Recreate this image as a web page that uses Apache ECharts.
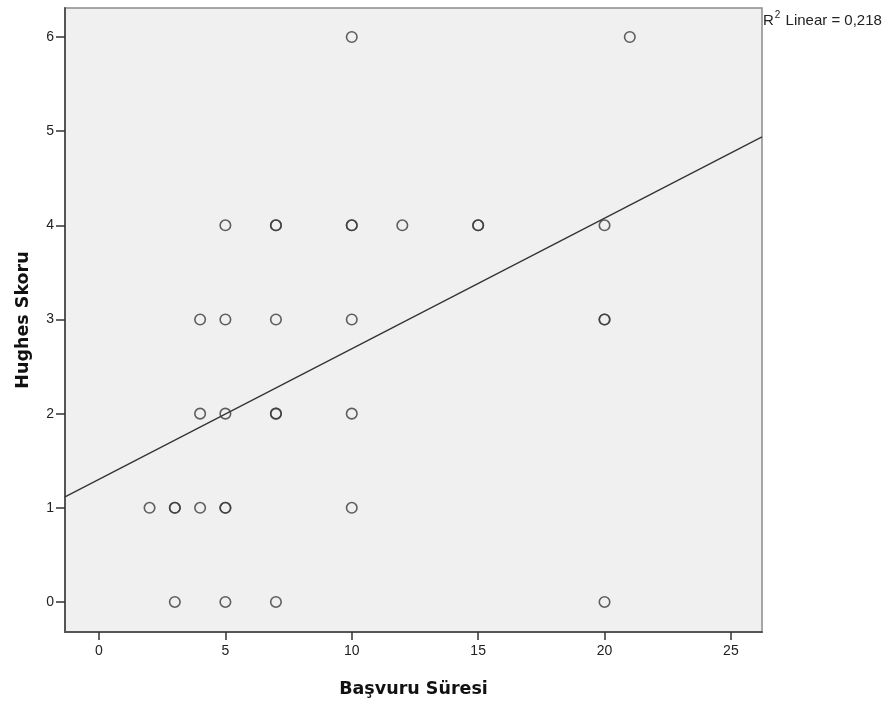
<!DOCTYPE html>
<html>
<head>
<meta charset="utf-8">
<script src="https://cdn.jsdelivr.net/npm/echarts@6/dist/echarts.min.js"></script>
<style>html,body{margin:0;padding:0;background:#fff}#c{width:892px;height:704px}</style>
</head>
<body>
<div id="c"></div>
<script>
// Başvuru Süresi (x) values
const basvuruSuresi = [10, 21, 5, 7, 7, 10, 10, 12, 15, 15, 20, 4, 5, 7, 10, 20, 20, 4, 5, 7, 7, 10, 2, 3, 3, 4, 5, 5, 10, 3, 5, 7, 20];
// Hughes Skoru (y) values
const hughesSkoru = [6, 6, 4, 4, 4, 4, 4, 4, 4, 4, 4, 3, 3, 3, 3, 3, 3, 2, 2, 2, 2, 2, 1, 1, 1, 1, 1, 1, 1, 0, 0, 0, 0];
const xTicks = [0, 5, 10, 15, 20, 25];
const yTicks = [0, 1, 2, 3, 4, 5, 6];
const xRange = [-1.345, 26.23];
const yRange = [-0.319, 6.308];
// Linear fit
const fitIntercept = 1.302;
const fitSlope = 0.1387;
const r2Text = '0,218';

const points = basvuruSuresi.map((x, i) => [x, hughesSkoru[i]]);
const fitLine = xRange.map(x => [x, fitIntercept + fitSlope * x]);

const font = '"Liberation Sans", Arial, sans-serif';
const boldFont = '"DejaVu Sans", Verdana, sans-serif';
const chart = echarts.init(document.getElementById('c'));
chart.setOption({
  animation: false,
  backgroundColor: '#ffffff',
  title: {
    left: 763, top: 10, padding: 0,
    text: '{a|R}{s|2}{a| Linear = ' + r2Text + '}',
    textStyle: {
      rich: {
        a: { fontFamily: font, fontSize: 15, fontWeight: 'normal', color: '#222', verticalAlign: 'bottom', lineHeight: 18 },
        s: { fontFamily: font, fontSize: 10, fontWeight: 'normal', color: '#222', verticalAlign: 'top', padding: [0, 1, 7, 1], lineHeight: 18 }
      }
    }
  },
  grid: {
    left: 65, right: 130, top: 8, bottom: 72,
    show: true, backgroundColor: '#f0f0f0', borderColor: '#8a8a8a', borderWidth: 1.5
  },
  xAxis: {
    type: 'value', min: xRange[0], max: xRange[1],
    name: 'Başvuru Süresi', nameLocation: 'middle', nameGap: 48,
    nameTextStyle: { fontFamily: boldFont, fontSize: 17.5, fontWeight: 'bold', color: '#111' },
    axisLine: { onZero: false, lineStyle: { color: '#555', width: 2 } },
    axisTick: { show: true, length: 8, customValues: xTicks, lineStyle: { color: '#333', width: 1.5 } },
    axisLabel: { customValues: xTicks, fontFamily: font, fontSize: 14, color: '#222', margin: 12 },
    splitLine: { show: false }
  },
  yAxis: {
    type: 'value', min: yRange[0], max: yRange[1],
    name: 'Hughes Skoru', nameLocation: 'middle', nameGap: 33, nameRotate: 90,
    nameTextStyle: { fontFamily: boldFont, fontSize: 17.5, fontWeight: 'bold', color: '#111' },
    axisLine: { show: true, onZero: false, lineStyle: { color: '#555', width: 2 } },
    axisTick: { show: true, length: 9, customValues: yTicks, lineStyle: { color: '#333', width: 1.5 } },
    axisLabel: { customValues: yTicks, fontFamily: font, fontSize: 14, color: '#222', margin: 11 },
    splitLine: { show: false }
  },
  series: [
    {
      type: 'line', data: fitLine, symbol: 'none', clip: true, silent: true,
      lineStyle: { color: '#333', width: 1.3 }, z: 1
    },
    {
      type: 'scatter', data: points, symbol: 'circle', symbolSize: 10.5,
      itemStyle: { color: 'rgba(240,240,240,0)', borderColor: '#3a3a3a', borderWidth: 1.6 }, z: 2
    }
  ]
});
</script>
</body>
</html>
